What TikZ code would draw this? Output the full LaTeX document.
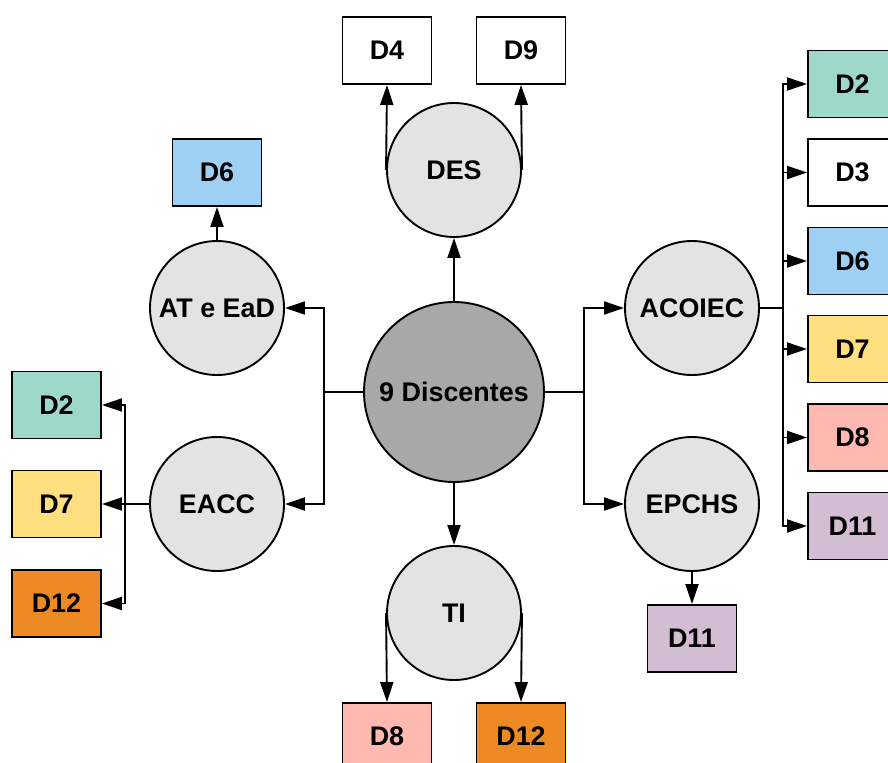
\documentclass[tikz,border=0pt]{standalone}
\usepackage{fontspec}
\setmainfont{Liberation Sans}
\usetikzlibrary{arrows.meta}
\definecolor{topicgray}{HTML}{E3E3E3}
\definecolor{hubgray}{HTML}{A8A8A8}
\definecolor{dteal}{HTML}{9ED8CB}
\definecolor{dblue}{HTML}{9DD0F2}
\definecolor{dyellow}{HTML}{FFDF80}
\definecolor{dpink}{HTML}{FFB9B0}
\definecolor{dpurple}{HTML}{D2BDD3}
\definecolor{dorange}{HTML}{EE8A24}

\begin{document}
\begin{tikzpicture}[x=1bp, y=-1bp, line width=1.9bp, >={Triangle[length=20bp, width=13bp]},
	every node/.style={font=\fontsize{27}{31}\selectfont\bfseries},
	hub/.style={circle, draw, fill=hubgray, minimum size=180bp, inner sep=0pt},
	topic/.style={circle, draw, fill=topicgray, minimum size=134bp, inner sep=0pt},
	dbox/.style={draw, fill=white, minimum width=89bp, minimum height=67bp, inner sep=0pt}]
	\clip (0,0) rectangle (888,763);
	\node[hub] (hub) at (454,392) {9 Discentes};
	\node[topic] (des) at (454,170) {DES};
	\node[topic] (ated) at (217,308) {AT e EaD};
	\node[topic] (eacc) at (217,504) {EACC};
	\node[topic] (acoiec) at (692,308) {ACOIEC};
	\node[topic] (epchs) at (692,504) {EPCHS};
	\node[topic] (ti) at (454,613) {TI};
	\node[dbox] (desd4) at (387,50.5) {D4};
	\node[dbox] (desd9) at (521,50.5) {D9};
	\node[dbox, fill=dblue] (atd6) at (217,172.5) {D6};
	\node[dbox, fill=dteal] (ead2) at (56.5,405) {D2};
	\node[dbox, fill=dyellow] (ead7) at (56.5,504) {D7};
	\node[dbox, fill=dorange] (ead12) at (56.5,603.5) {D12};
	\node[dbox, fill=dteal] (acd2) at (852.5,84) {D2};
	\node[dbox] (acd3) at (852.5,172.5) {D3};
	\node[dbox, fill=dblue] (acd6) at (852.5,261) {D6};
	\node[dbox, fill=dyellow] (acd7) at (852.5,349) {D7};
	\node[dbox, fill=dpink] (acd8) at (852.5,437.5) {D8};
	\node[dbox, fill=dpurple] (acd11) at (852.5,526) {D11};
	\node[dbox, fill=dpurple] (epd11) at (692,638.5) {D11};
	\node[dbox, fill=dpink] (tid8) at (387,736.5) {D8};
	\node[dbox, fill=dorange] (tid12) at (521,736.5) {D12};
	\coordinate (lsplit) at (324,392);
	\coordinate (rsplit) at (584,392);
	\coordinate (lbus) at (125,504);
	\coordinate (rbus) at (783,308);
	\draw[->] (hub.north) -- (des.south);
	\draw[->] (hub.south) -- (ti.north);
	\draw (hub.west) -- (lsplit);
	\draw[->] (lsplit) |- (ated.east);
	\draw[->] (lsplit) |- (eacc.east);
	\draw (hub.east) -- (rsplit);
	\draw[->] (rsplit) |- (acoiec.west);
	\draw[->] (rsplit) |- (epchs.west);
	\draw[->] (des.west) -- (desd4.south);
	\draw[->] (des.east) -- (desd9.south);
	\draw[->] (ated.north) -- (atd6.south);
	\draw[->] (eacc.west) -- (ead7.east);
	\draw[->] (lbus) |- (ead2.east);
	\draw[->] (lbus) |- (ead12.east);
	\draw (acoiec.east) -- (rbus);
	\foreach \b in {acd2,acd3,acd6,acd7,acd8,acd11}
		\draw[->] (rbus) |- (\b.west);
	\draw[->] (epchs.south) -- (epd11.north);
	\draw[->] (ti.west) -- (tid8.north);
	\draw[->] (ti.east) -- (tid12.north);
\end{tikzpicture}
\end{document}
